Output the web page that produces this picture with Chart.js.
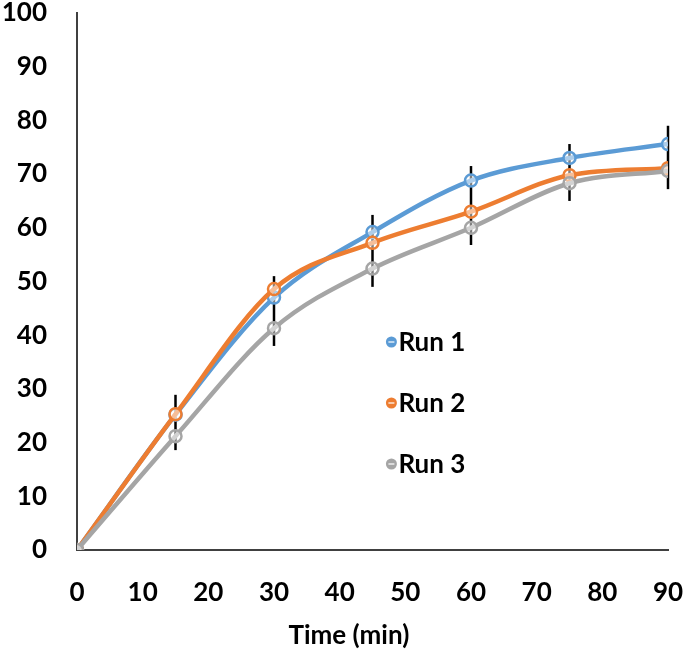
<!DOCTYPE html>
<html>
<head>
<meta charset="utf-8">
<script src="https://cdn.jsdelivr.net/npm/chart.js@4.4.1/dist/chart.umd.min.js"></script>
<style>
  html, body { margin: 0; padding: 0; background: #fff; }
  #wrap { width: 685px; height: 656px; position: relative; }
</style>
</head>
<body>
<div id="wrap"><canvas id="chart"></canvas></div>
<script>
// time points (min)
const times = [0, 15, 30, 45, 60, 75, 90];
const run1 = [0, 25.2, 47, 59.2, 68.8, 73, 75.6];
const run2 = [0, 25.3, 48.6, 57.2, 63, 69.8, 71.1];
const run3 = [0, 21.2, 41.3, 52.4, 60, 68.3, 70.6];
// error bar ends
const errTop = [0, 28.9, 51, 62.4, 71.5, 75.6, 79];
const errBottom = [0, 18.6, 38, 49, 56.8, 65, 67.2];
const seriesNames = ['Run 1', 'Run 2', 'Run 3'];
const colors = ['#5B9BD5', '#ED7D31', '#A5A5A5'];
const xTitle = 'Time (min)';

const FONT = 'Lato, "Open Sans", sans-serif';

function toPoints(arr) {
    return times.map((t, i) => ({ x: t, y: arr[i] }));
}

// error bars, drawn before the lines
const errorBars = {
    id: 'errorBars',
    beforeDatasetsDraw(chart) {
        const ctx = chart.ctx;
        const xs = chart.scales.x;
        const ys = chart.scales.y;
        ctx.save();
        ctx.strokeStyle = '#000';
        ctx.lineWidth = 2.5;
        for (let i = 0; i < times.length; i++) {
            if (errTop[i] === errBottom[i]) continue;
            const px = xs.getPixelForValue(times[i]);
            ctx.beginPath();
            ctx.moveTo(px, ys.getPixelForValue(errTop[i]));
            ctx.lineTo(px, ys.getPixelForValue(errBottom[i]));
            ctx.stroke();
        }
        ctx.restore();
    }
};

// legend inside the plot + x axis title (sits a bit left of centre)
const innerLegend = {
    id: 'innerLegend',
    afterDraw(chart) {
        const ctx = chart.ctx;
        const area = chart.chartArea;
        const x0 = area.left + (area.right - area.left) * 0.532;
        const ys = [342, 403, 464];
        ctx.save();
        ctx.font = 'bold 26px ' + FONT;
        ctx.textBaseline = 'middle';
        ctx.textAlign = 'left';
        seriesNames.forEach((name, i) => {
            const y = ys[i];
            ctx.fillStyle = colors[i];
            ctx.beginPath();
            ctx.arc(x0, y, 5.5, 0, Math.PI * 2);
            ctx.fill();
            ctx.strokeStyle = 'rgba(255,255,255,0.8)';
            ctx.lineWidth = 1.5;
            ctx.beginPath();
            ctx.moveTo(x0 - 3, y);
            ctx.lineTo(x0 + 3, y);
            ctx.stroke();
            ctx.fillStyle = '#000';
            ctx.fillText(name, x0 + 7, y + 1);
        });
        // axis title
        ctx.textAlign = 'center';
        ctx.fillStyle = '#000';
        ctx.fillText(xTitle, area.left + (area.right - area.left) * 0.46, chart.height - 20);
        ctx.restore();
    }
};

const datasets = [run1, run2, run3].map((arr, i) => ({
    label: seriesNames[i],
    data: toPoints(arr),
    borderColor: colors[i],
    backgroundColor: 'rgba(255,255,255,0.5)',
    pointBorderColor: colors[i],
    pointBackgroundColor: 'rgba(255,255,255,0.5)',
    borderWidth: 4.5,
    pointRadius: 6,
    pointBorderWidth: 2.5,
    tension: 0.4,
    cubicInterpolationMode: 'monotone',
    order: 3 - i
}));

new Chart(document.getElementById('chart'), {
    type: 'line',
    data: { datasets },
    options: {
        responsive: true,
        maintainAspectRatio: false,
        animation: false,
        layout: { padding: { top: 13, right: 17, bottom: 4, left: 0 } },
        plugins: { legend: { display: false }, tooltip: { enabled: false } },
        scales: {
            x: {
                type: 'linear',
                min: 0,
                max: 90,
                grid: { display: false, drawTicks: false },
                border: { display: true, color: '#404040', width: 2 },
                ticks: {
                    stepSize: 10,
                    padding: 27,
                    color: '#000',
                    font: { family: FONT, size: 26, weight: 'bold' }
                },
                afterFit(scale) {
                    scale.height = 102;
                    scale.paddingLeft = 0;
                    scale.paddingRight = 0;
                }
            },
            y: {
                min: 0,
                max: 100,
                grid: { display: false, drawTicks: false },
                border: { display: true, color: '#404040', width: 2 },
                ticks: {
                    stepSize: 10,
                    padding: 30,
                    color: '#000',
                    font: { family: FONT, size: 26, weight: 'bold' }
                },
                afterFit(scale) {
                    scale.width = 77;
                    scale.paddingTop = 0;
                    scale.paddingBottom = 0;
                }
            }
        }
    },
    plugins: [errorBars, innerLegend]
});
</script>
</body>
</html>
